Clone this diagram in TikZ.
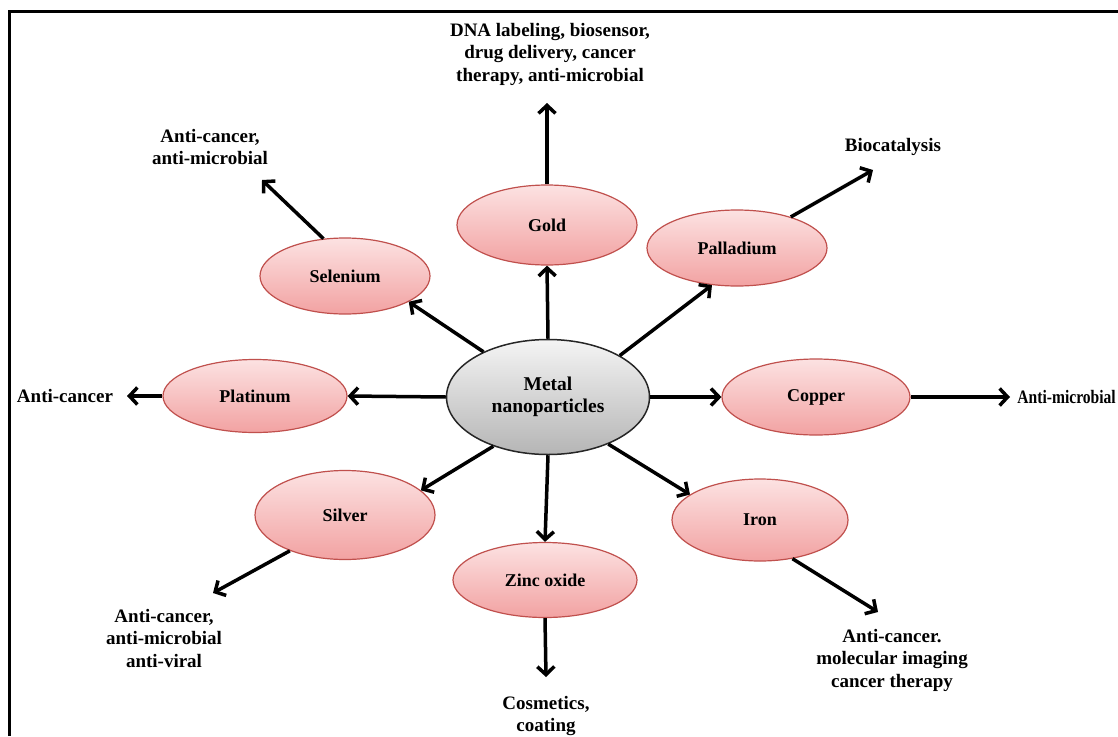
\documentclass[tikz,border=0pt]{standalone}
\usepackage{fontspec}
\setmainfont{Liberation Serif}
\newfontfamily\narrowserif[FakeStretch=0.82]{Liberation Serif}
\usetikzlibrary{shapes.geometric,arrows.meta}
\definecolor{pinkTop}{HTML}{FCE2E2}
\definecolor{pinkBot}{HTML}{F2A2A2}
\definecolor{pinkLine}{HTML}{C0504D}
\definecolor{grayTop}{HTML}{F4F4F4}
\definecolor{grayBot}{HTML}{B5B5B5}
\tikzset{
  metal/.style={ellipse, draw=pinkLine, line width=1.2pt, top color=pinkTop, bottom color=pinkBot,
    inner sep=0pt, font=\fontsize{18}{21}\selectfont\bfseries},
  hub/.style={ellipse, draw=black!85, line width=1.5pt, top color=grayTop, bottom color=grayBot,
    inner sep=0pt, align=center, font=\fontsize{19.5}{22}\selectfont\bfseries},
  use/.style={align=center, inner sep=0pt, font=\fontsize{19}{22.5}\selectfont\bfseries},
  link/.style={line width=3.5pt, -{Straight Barb[length=8pt,width=17pt]}}
}
\begin{document}
\begin{tikzpicture}[x=1pt,y=-1pt]
\useasboundingbox (0,0) rectangle (1118,736);
\fill[white] (0,0) rectangle (1118,736);
\draw[line width=3pt] (9,736) -- (9,11) -- (1118,11);

\node[hub, minimum width=203pt, minimum height=115pt] (c) at (548,397) {Metal\\nanoparticles};

\node[metal, minimum width=180pt, minimum height=80pt] (gold) at (547,225) {Gold};
\node[metal, minimum width=170pt, minimum height=76pt] (sel) at (345,276) {Selenium};
\node[metal, minimum width=180pt, minimum height=76pt] (pal) at (737,248) {Palladium};
\node[metal, minimum width=184pt, minimum height=73pt] (plat) at (255,396) {Platinum};
\node[metal, minimum width=188pt, minimum height=76pt] (cop) at (816,397) {Copper};
\node[metal, minimum width=180pt, minimum height=89pt] (sil) at (345,515) {Silver};
\node[metal, minimum width=184pt, minimum height=75pt] (zinc) at (545,580) {Zinc oxide};
\node[metal, minimum width=176pt, minimum height=82pt] (iron) at (760,520) {Iron};

\node[use] (dna) at (550,54) {DNA labeling, biosensor,\\drug delivery, cancer\\therapy, anti-microbial};
\node[use] (selu) at (210,147) {Anti-cancer,\\anti-microbial};
\node[use] (palu) at (893,147) {Biocatalysis};
\node[use] (platu) at (65,396) {Anti-cancer};
\node[use, anchor=east, font=\fontsize{19}{22.5}\selectfont\narrowserif\bfseries] (copu) at (1116,397) {Anti-microbial};
\node[use] (silu) at (164,638) {Anti-cancer,\\anti-microbial\\anti-viral};
\node[use] (zincu) at (546,716) {Cosmetics,\\coating};
\node[use] (ironu) at (892,660) {Anti-cancer.\\molecular imaging\\cancer therapy};

\coordinate (tdna) at (547,103);
\coordinate (tsel) at (262,180);
\coordinate (tpal) at (873,170);
\coordinate (tplat) at (127,396);
\coordinate (tcop) at (1010,397);
\coordinate (tsil) at (213,593);
\coordinate (tzinc) at (546,677);
\coordinate (tiron) at (878,612);

\draw[link] (c.90) -- (gold.270);
\draw[link] (c.145) -- (sel.-22);
\draw[link] (c.30) -- (pal.236);
\draw[link] (c.180) -- (plat.0);
\draw[link] (c.0) -- (cop.180);
\draw[link] (c.222) -- (sil.18);
\draw[link] (c.270) -- (zinc.90);
\draw[link] (c.-38) -- (iron.160);

\draw[link] (gold.90) -- (tdna);
\draw[link] (sel.120) -- (tsel);
\draw[link] (pal.30) -- (tpal);
\draw[link] (plat.180) -- (tplat);
\draw[link] (cop.0) -- (tcop);
\draw[link] (sil.213) -- (tsil);
\draw[link] (zinc.270) -- (tzinc);
\draw[link] (iron.-50) -- (tiron);
\end{tikzpicture}
\end{document}
